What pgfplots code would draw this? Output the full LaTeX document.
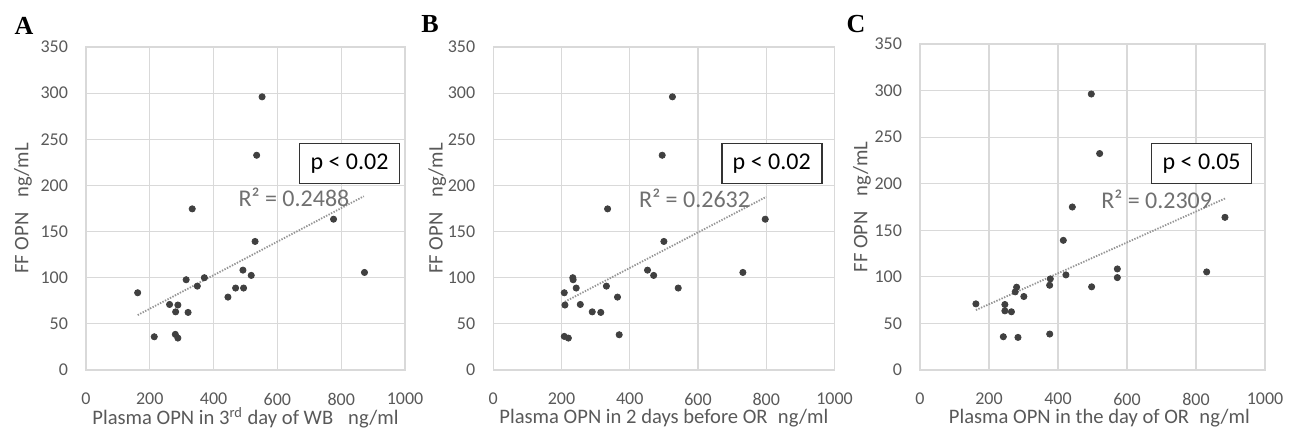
\documentclass[border=0pt]{standalone}
\usepackage{fontspec}
\setmainfont{Carlito}
\newfontfamily\letterfont{Liberation Serif}
\usepackage{pgfplots}
\pgfplotsset{compat=1.18}
\definecolor{gridc}{HTML}{D9D9D9}
\definecolor{tickc}{HTML}{595959}
\definecolor{markc}{HTML}{404040}
\definecolor{trendc}{HTML}{959595}
\definecolor{rsqc}{HTML}{707070}
\tikzset{
  rsq/.style={font=\fontsize{12}{14}\selectfont, text=rsqc, inner sep=0pt},
  pbox/.style={draw=black!80, line width=0.8pt, fill=white, font=\fontsize{12}{14}\selectfont, minimum width=50pt, minimum height=20pt, inner sep=0pt},
  letter/.style={font=\letterfont\bfseries\fontsize{13}{15}\selectfont, inner sep=0pt},
}
\pgfplotsset{
  panel/.style={
    scale only axis, anchor=south west,
    xmin=0, xmax=1000, ymin=0, ymax=350,
    xtick={0,200,...,1000}, ytick={0,50,...,350},
    grid=major, major grid style={draw=gridc, line width=0.6pt},
    axis line style={draw=gridc, line width=0.6pt},
    tick style={draw=none},
    tick label style={font=\fontsize{9}{10}\selectfont, text=tickc},
    /pgf/number format/assume math mode=true,
    /pgf/number format/1000 sep={},
    scaled ticks=false,
    yticklabel style={xshift=-5.5pt},
    xticklabel style={yshift=-8pt},
    label style={font=\fontsize{10.3}{12}\selectfont, text=tickc},
    xlabel style={anchor=center},
    ylabel style={anchor=center},
    clip=false,
  },
  pts/.style={only marks, mark=*, mark size=1.55pt, mark options={draw=markc, fill=markc}},
  trend/.style={no marks, draw=trendc, line width=0.9pt, dash pattern=on 0.7pt off 0.7pt},
}
\pgfplotstableread{
x y
552 296
535 232.7
333 174.6
776 163.4
530 139.3
873 105.7
492 108.2
518 102.5
371 100
314 97.8
349 90.9
469 88.8
494 88.8
445 79
162 83.7
262 71
288 70.4
281 63
320 62.4
214 36
280 38.6
288 34.6
}\dataA
\pgfplotstableread{
x y
525 296
495 232.7
335 174.6
797 163.4
500 139.3
731.5 105.7
452 108.2
470 102.5
233 100
234 97.8
243 88.8
331.5 90.9
542 88.8
364 79
208 83.7
210 70.4
255 71
290 63
315 62.4
208 36.4
220 34.6
369 38.2
}\dataB
\pgfplotstableread{
x y
496.5 296.3
520.7 232.4
441.5 175
884 163.9
415.4 139.2
831 105.3
572 108.5
572 99.2
423 102.1
377.7 97.8
375.8 91
497.5 89.3
280 88.9
276 83.9
301 78.9
162 71
246 70.3
246 63.5
265 62.5
241.5 35.7
284 35
376 38.6
}\dataC
\begin{document}
\begin{tikzpicture}
\path[use as bounding box] (0,0) rectangle (649pt,217pt);
% Panel A
\begin{axis}[panel, at={(43pt,32pt)}, width=159.5pt, height=161.5pt,
  xlabel={Plasma OPN in 3\textsuperscript{rd} day of WB\enspace\ ng/ml},
  ylabel={FF OPN\enspace\ ng/mL},
  xlabel style={at={(axis description cs:0.5,-0.1486)}},
  ylabel style={at={(axis description cs:-0.1975,0.5)}}]
\addplot[pts] table[x=x,y=y] {\dataA};
\addplot[trend] coordinates {(162,59.5) (871,188.3)};
\node[rsq] at (axis cs:652,187.6) {R² = 0.2488};
\node[pbox] at (axis cs:826,223.7) {p < 0.02};
\end{axis}
% Panel B
\begin{axis}[panel, at={(246.65pt,32pt)}, width=170.6pt, height=161.5pt,
  xlabel={Plasma OPN in 2 days before OR\enspace ng/ml},
  ylabel={FF OPN\enspace\ ng/mL},
  xlabel style={at={(axis description cs:0.5,-0.1486)}},
  ylabel style={at={(axis description cs:-0.164,0.5)}}]
\addplot[pts] table[x=x,y=y] {\dataB};
\addplot[trend] coordinates {(210,74) (800,187.6)};
\node[rsq] at (axis cs:590,186.5) {R² = 0.2632};
\node[pbox] at (axis cs:816,223.7) {p < 0.02};
\end{axis}
% Panel C
\begin{axis}[panel, at={(460pt,32pt)}, width=172.5pt, height=163pt,
  xlabel={Plasma OPN in the day of OR\enspace ng/ml},
  ylabel={FF OPN\enspace\ ng/mL},
  xlabel style={at={(axis description cs:0.52,-0.147)}},
  ylabel style={at={(axis description cs:-0.168,0.5)}}]
\addplot[pts] table[x=x,y=y] {\dataC};
\addplot[trend] coordinates {(162,64.3) (887,184.6)};
\node[rsq] at (axis cs:686,183) {R² = 0.2309};
\node[pbox] at (axis cs:816.5,221.7) {p < 0.05};
\end{axis}
\node[letter] at (12pt,204pt) {A};
\node[letter] at (215pt,205pt) {B};
\node[letter] at (428pt,205pt) {C};
\end{tikzpicture}
\end{document}
